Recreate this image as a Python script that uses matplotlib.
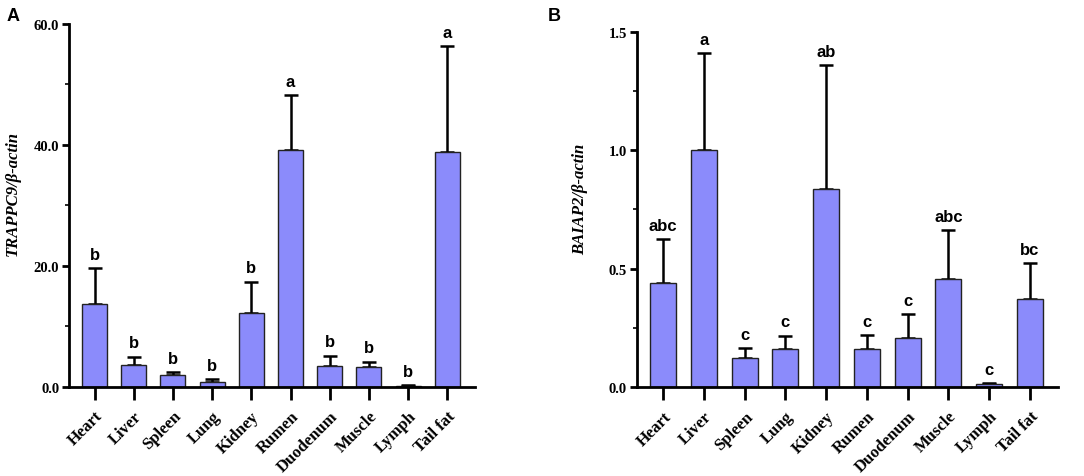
import numpy as np
import matplotlib.pyplot as plt
from matplotlib.ticker import MultipleLocator

tissues = ["Heart", "Liver", "Spleen", "Lung", "Kidney", "Rumen",
           "Duodenum", "Muscle", "Lymph", "Tail fat"]

trappc9_mean = [13.8, 3.6, 1.9, 0.8, 12.2, 39.2, 3.5, 3.3, 0.2, 38.8]
trappc9_err = [5.8, 1.4, 0.5, 0.5, 5.2, 9.1, 1.7, 0.9, 0.1, 17.5]
trappc9_sig = ["b", "b", "b", "b", "b", "a", "b", "b", "b", "a"]

baiap2_mean = [0.439, 1.0, 0.124, 0.160, 0.836, 0.163, 0.207, 0.458, 0.012, 0.371]
baiap2_err = [0.186, 0.41, 0.042, 0.058, 0.524, 0.056, 0.101, 0.205, 0.004, 0.152]
baiap2_sig = ["abc", "a", "c", "c", "ab", "c", "c", "abc", "c", "bc"]

BAR_COLOR = "#8b8bfb"
SERIF = "Liberation Serif"
SANS = "Liberation Sans"


def draw_panel(ax, means, errs, sigs, ymax, major, minor, ylabel):
    x = np.arange(len(tissues))
    ax.bar(x, means, width=0.64, color=BAR_COLOR, edgecolor="#222222",
           linewidth=1.0, zorder=2)
    ax.errorbar(x, means, yerr=[np.zeros(len(errs)), errs], fmt="none",
                ecolor="black", elinewidth=1.8, capsize=4.7, capthick=1.8, zorder=1)
    for xi, m, e, s in zip(x, means, errs, sigs):
        ax.annotate(s, (xi, m + e), xytext=(0, 4.5), textcoords="offset points",
                    ha="center", va="bottom", fontsize=12, fontweight="bold",
                    family=SANS)

    ax.set_xlim(-0.65, len(tissues) - 0.3)
    ax.set_ylim(0, ymax)
    ticks = np.arange(0, ymax + major / 2, major)
    ax.yaxis.set_minor_locator(MultipleLocator(minor))
    ax.set_yticks(ticks)
    ax.set_yticklabels([f"{v:.1f}" for v in ticks],
                       family=SERIF, fontweight="bold", fontsize=10.5)
    ax.set_xticks(x)
    ax.set_xticklabels(tissues, rotation=45, ha="right", rotation_mode="anchor",
                       family=SERIF, fontweight="bold", fontsize=12)
    ax.tick_params(axis="x", length=9, width=2, pad=6)
    ax.tick_params(axis="y", which="major", length=5, width=2, pad=2)
    ax.tick_params(axis="y", which="minor", length=3, width=1.2)
    for side in ("top", "right"):
        ax.spines[side].set_visible(False)
    for side in ("left", "bottom"):
        ax.spines[side].set_linewidth(2)
    ax.set_ylabel(ylabel, family=SERIF, fontstyle="italic", fontweight="bold",
                  fontsize=12)


fig = plt.figure(figsize=(10.84, 4.77), dpi=100)
ax_a = fig.add_axes([0.0637, 0.1866, 0.3743, 0.761])
ax_b = fig.add_axes([0.5874, 0.186, 0.3889, 0.7455])

draw_panel(ax_a, trappc9_mean, trappc9_err, trappc9_sig, 60, 20, 10,
           "TRAPPC9/β-actin")
draw_panel(ax_b, baiap2_mean, baiap2_err, baiap2_sig, 1.5, 0.5, 0.25,
           "BAIAP2/β-actin")

ax_a.yaxis.set_label_coords(-0.12, 0.535)
ax_b.yaxis.set_label_coords(-0.115, 0.532)

fig.text(0.006, 0.966, "A", family=SANS, fontweight="bold", fontsize=13, va="center")
fig.text(0.505, 0.966, "B", family=SANS, fontweight="bold", fontsize=13, va="center")

fig.savefig("out.png", dpi=100)
